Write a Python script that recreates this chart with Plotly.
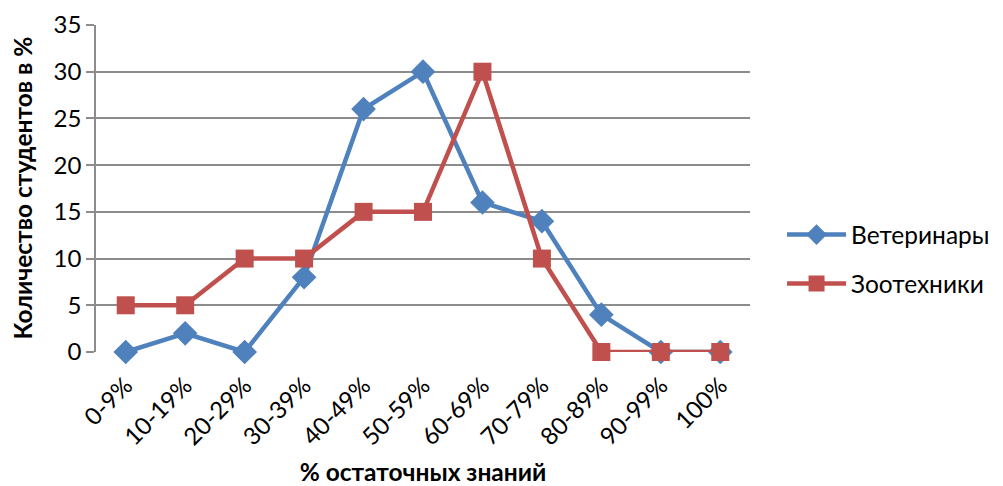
import plotly.graph_objects as go

categories = ["0-9%", "10-19%", "20-29%", "30-39%", "40-49%", "50-59%",
              "60-69%", "70-79%", "80-89%", "90-99%", "100%"]
vet = [0, 2, 0, 8, 26, 30, 16, 14, 4, 0, 0]
zoo = [5, 5, 10, 10, 15, 15, 30, 10, 0, 0, 0]
y_ticks = [0, 5, 10, 15, 20, 25, 30, 35]

FONT = "Lato"
fig = go.Figure()
fig.add_trace(go.Scatter(
    x=categories, y=vet, name="Ветеринары", mode="lines+markers",
    legendgroup="a", cliponaxis=False,
    line=dict(color="#4F81BD", width=4.5),
    marker=dict(symbol="diamond", size=19, color="#4F81BD"),
))
fig.add_trace(go.Scatter(
    x=categories, y=zoo, name="Зоотехники", mode="lines+markers",
    legendgroup="b", cliponaxis=False,
    line=dict(color="#C0504D", width=4.5),
    marker=dict(symbol="square", size=18, color="#C0504D"),
))

fig.update_layout(
    width=1003, height=486,
    margin=dict(l=88, r=261, t=17, b=142, autoexpand=False),
    paper_bgcolor="white", plot_bgcolor="white",
    font=dict(family=FONT, size=24, color="black"),
    showlegend=True,
    legend=dict(x=1.049, y=0.284, xanchor="left", yanchor="middle",
                font=dict(family=FONT, size=24.5, color="black"),
                itemwidth=59, tracegroupgap=14),
    xaxis=dict(
        type="category", range=[-0.5, 10.5], automargin=False,
        showgrid=False, zeroline=False, showline=False,
        ticks="", tickangle=-45, tickfont=dict(size=24), ticklabelstandoff=14,
        title=dict(text="<b>% остаточных знаний</b>", font=dict(size=24.5), standoff=14),
    ),
    yaxis=dict(
        range=[0, 35], tickvals=y_ticks, automargin=False,
        showgrid=True, gridcolor="#8C8C8C", gridwidth=1.5,
        showline=True, linecolor="#8C8C8C", linewidth=1.5,
        ticks="outside", ticklen=8, tickcolor="#8C8C8C", tickwidth=1.5,
        zeroline=False, tickfont=dict(size=24),
    ),
    annotations=[dict(
        text="<b>Количество студентов в %</b>", textangle=-90,
        xref="paper", yref="paper", x=0, y=0.5, xanchor="center", yanchor="middle",
        xshift=-74, showarrow=False, font=dict(size=24.5, color="black"),
    )],
)
fig.write_html("out.html")
